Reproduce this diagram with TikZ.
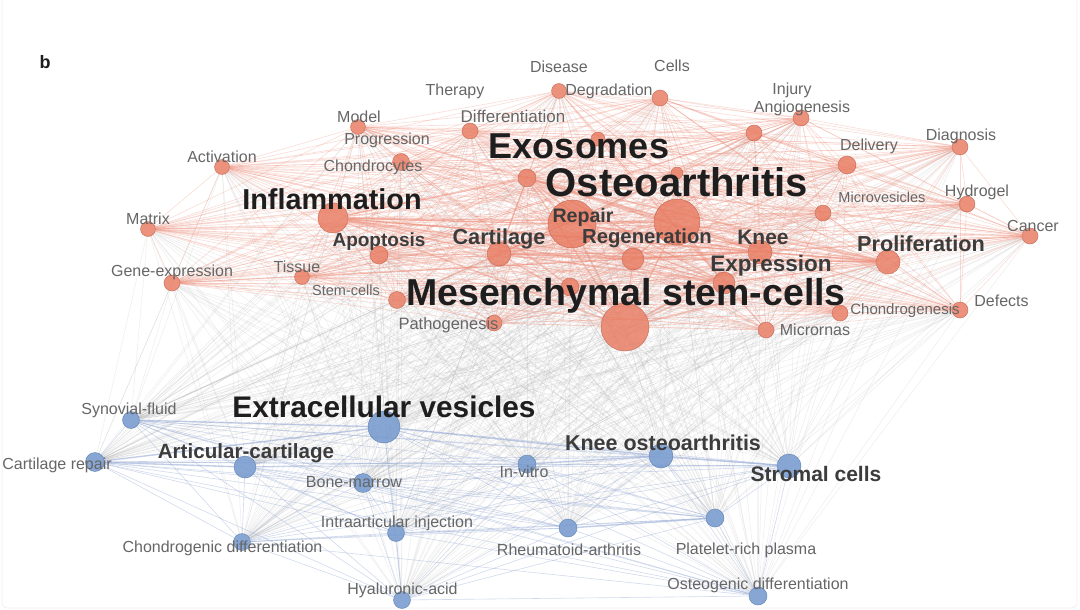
\documentclass[tikz,border=0pt]{standalone}
\usepackage{fontspec}
\setmainfont{Liberation Sans}
\pgfdeclarelayer{edges}
\pgfdeclarelayer{bg}
\pgfsetlayers{bg,edges,main}
\definecolor{rfill}{HTML}{E8795F}
\definecolor{rdraw}{HTML}{B85A46}
\definecolor{bfill}{HTML}{7297CC}
\definecolor{bdraw}{HTML}{5073A8}
\definecolor{redgec}{HTML}{EE8E7A}
\definecolor{gedgec}{HTML}{B0B0B0}
\definecolor{bedgec}{HTML}{93A8D4}
\definecolor{lsmall}{HTML}{666666}
\definecolor{lmid}{HTML}{3C3C3C}
\definecolor{lbig}{HTML}{1E1E1E}
\tikzset{
  rnode/.style={circle,inner sep=0pt,fill=rfill,fill opacity=0.82,draw=rdraw,draw opacity=0.7,line width=0.5pt},
  bnode/.style={circle,inner sep=0pt,fill=bfill,fill opacity=0.85,draw=bdraw,draw opacity=0.7,line width=0.5pt},
  redge/.style={redgec,line width=0.6pt,opacity=0.3},
  rhub/.style={redgec,line width=1.6pt,opacity=0.35},
  gedge/.style={gedgec,line width=0.5pt,opacity=0.22},
  bedge/.style={bedgec,line width=0.6pt,opacity=0.42},
  bhub/.style={bedgec,line width=1.6pt,opacity=0.4},
  lbl/.style={inner sep=0pt,text=lsmall,font=\fontsize{#1}{#1}\selectfont},
  lbl/.default=16,
  blbl/.style={inner sep=0pt,text=lmid,font=\fontsize{#1}{#1}\selectfont\bfseries},
  hlbl/.style={inner sep=0pt,text=lbig,font=\fontsize{#1}{#1}\selectfont\bfseries},
}
\newcommand\rn[4]{\node[rnode,minimum size=#4pt] (#1) at (#2,#3) {};}
\newcommand\bn[4]{\node[bnode,minimum size=#4pt] (#1) at (#2,#3) {};}
\begin{document}
\begin{tikzpicture}[x=1pt,y=-1pt]
\useasboundingbox (0,0) rectangle (1080,610);
\begin{pgfonlayer}{bg}
\fill[white] (0,0) rectangle (1080,610);
\draw[black!6,line width=0.8pt,rounded corners=5pt] (2,-10) rectangle (1077,608);
\end{pgfonlayer}
% red nodes
\rn{act}{222}{167}{15}
\rn{mod}{358}{127}{15}
\rn{dif}{470}{131}{16}
\rn{cho}{401}{162}{17}
\rn{deg}{559}{91}{15}
\rn{cel}{660}{98}{16}
\rn{exa}{598}{139}{14}
\rn{exo}{527}{178}{18}
\rn{osb}{677}{173}{12}
\rn{inf}{333}{218}{30}
\rn{rep}{572}{224}{48}
\rn{ost}{677}{222}{46}
\rn{apo}{379}{255}{18}
\rn{car}{499}{254}{24}
\rn{reg}{633}{259}{22}
\rn{tis}{302}{277}{15}
\rn{ste}{397}{300}{17}
\rn{mea}{570}{287}{18}
\rn{pat}{494}{323}{16}
\rn{msc}{625}{327}{48}
\rn{mat}{148}{229}{15}
\rn{gen}{172}{283}{16}
\rn{ang}{754}{133}{16}
\rn{inj}{801}{118}{16}
\rn{del}{847}{165}{18}
\rn{dia}{960}{147}{16}
\rn{mic}{823}{213}{16}
\rn{hyd}{967}{204}{16}
\rn{can}{1030}{236}{16}
\rn{kne}{760}{252}{24}
\rn{pro}{888}{262}{24}
\rn{exp}{724}{283}{22}
\rn{chg}{840}{313}{16}
\rn{def}{960}{310}{16}
\rn{mir}{766}{330}{16}
% blue nodes
\bn{syn}{131}{420}{17}
\bn{ev}{384}{427}{32}
\bn{crp}{95}{462}{19}
\bn{arc}{245}{467}{22}
\bn{bm}{363}{483}{19}
\bn{inv}{527}{464}{18}
\bn{iai}{396}{533}{17}
\bn{chd}{242}{542}{17}
\bn{hya}{402}{600}{17}
\bn{koa}{661}{456}{24}
\bn{str}{789}{466}{24}
\bn{rhe}{568}{528}{18}
\bn{plt}{715}{518}{18}
\bn{osd}{758}{596}{18}
% edges
\def\reds{act,mod,dif,cho,deg,cel,exa,exo,osb,inf,rep,ost,apo,car,reg,tis,ste,mea,pat,msc,mat,gen,ang,inj,del,dia,mic,hyd,can,kne,pro,exp,chg,def,mir}
\def\rhubs{inf,rep,ost,msc,car,reg,kne,pro,exp,exo}
\def\blues{syn,ev,crp,arc,bm,inv,iai,chd,hya,koa,str,rhe,plt,osd}
\begin{pgfonlayer}{edges}
\foreach \a in \blues {
  \foreach \b in \reds {
    \draw[gedge] (\a) -- (\b);
  }
}
\foreach \a [count=\i] in \reds {
  \foreach \b [count=\j] in \reds {
    \ifnum\j>\i \draw[redge] (\a) -- (\b); \fi
  }
}
\foreach \a [count=\i] in \rhubs {
  \foreach \b [count=\j] in \rhubs {
    \ifnum\j>\i \draw[rhub] (\a) -- (\b); \fi
  }
}
\foreach \a [count=\i] in \blues {
  \foreach \b [count=\j] in \blues {
    \ifnum\j>\i \draw[bedge] (\a) -- (\b); \fi
  }
}
\draw[bhub] (syn) -- (ev);
\draw[bhub] (crp) -- (ev);
\draw[bhub] (crp) -- (arc);
\draw[bhub] (koa) -- (str);
\draw[bhub] (inv) -- (koa);
\draw[bhub] (ev) -- (koa);
\draw[bhub] (rhe) -- (plt);
\end{pgfonlayer}
% labels
\node[hlbl=18] (lb) at (45,62) {b};
\node[lbl] (l-dis) at (559,67) {Disease};
\node[lbl] (l-cel) at (672,65.5) {Cells};
\node[lbl] (l-the) at (455,91.5) {Therapy};
\node[lbl] (l-deg) at (609,91.5) {Degradation};
\node[lbl] (l-inj) at (792,90) {Injury};
\node[lbl] (l-mod) at (359,116.5) {Model};
\node[lbl=17] (l-dif) at (513,116) {Differentiation};
\node[lbl] (l-ang) at (802,108.5) {Angiogenesis};
\node[lbl] (l-pro) at (387,140) {Progression};
\node[lbl] (l-dia) at (961,136) {Diagnosis};
\node[lbl] (l-del) at (869,146) {Delivery};
\node[hlbl=36] (l-exo) at (579,146) {Exosomes};
\node[lbl] (l-act) at (222,157) {Activation};
\node[lbl] (l-cho) at (373,167.5) {Chondrocytes};
\node[hlbl=40] (l-ost) at (677,182) {Osteoarthritis};
\node[lbl] (l-hyd) at (977,192.5) {Hydrogel};
\node[lbl=14.5] (l-mic) at (882,197) {Microvesicles};
\node[hlbl=28.8] (l-inf) at (332,199) {Inflammation};
\node[lbl] (l-mat) at (148,219) {Matrix};
\node[blbl=19.6] (l-rep) at (583,217) {Repair};
\node[lbl] (l-can) at (1033,226) {Cancer};
\node[blbl=19] (l-apo) at (379,242) {Apoptosis};
\node[blbl=21.7] (l-car) at (499,238.5) {Cartilage};
\node[blbl=20.3] (l-reg) at (647,238.5) {Regeneration};
\node[blbl=21] (l-kne) at (763,237.5) {Knee};
\node[blbl=21.7] (l-prl) at (921,244) {Proliferation};
\node[blbl=22.5] (l-exp) at (771,266) {Expression};
\node[lbl] (l-gen) at (172,272.5) {Gene-expression};
\node[lbl] (l-tis) at (297,266.5) {Tissue};
\node[lbl=14.5] (l-ste) at (346,290) {Stem-cells};
\node[hlbl=37.5] (l-msc) at (626,295.5) {Mesenchymal stem-cells};
\node[lbl=15] (l-chg) at (905,311) {Chondrogenesis};
\node[lbl] (l-def) at (1001.5,301) {Defects};
\node[lbl=16.5] (l-pat) at (448.5,325) {Pathogenesis};
\node[lbl] (l-mir) at (815,329.5) {Micrornas};
\node[hlbl=29.8] (l-ev) at (384,407) {Extracellular vesicles};
\node[lbl] (l-syn) at (129,410) {Synovial-fluid};
\node[lbl] (l-crp) at (57,465) {Cartilage repair};
\node[blbl=20.6] (l-arc) at (246,453.5) {Articular-cartilage};
\node[blbl=21.5] (l-koa) at (663,443) {Knee osteoarthritis};
\node[lbl] (l-inv) at (524,471.5) {In-vitro};
\node[blbl=21] (l-str) at (816,473.5) {Stromal cells};
\node[lbl] (l-bm) at (354,482) {Bone-marrow};
\node[lbl] (l-iai) at (397,523.5) {Intraarticular injection};
\node[lbl] (l-rhe) at (569,550) {Rheumatoid-arthritis};
\node[lbl] (l-chd) at (222.5,548.5) {Chondrogenic differentiation};
\node[lbl] (l-plt) at (746,550) {Platelet-rich plasma};
\node[lbl] (l-osd) at (758,585) {Osteogenic differentiation};
\node[lbl] (l-hya) at (402.5,590) {Hyaluronic-acid};
\end{tikzpicture}
\end{document}
